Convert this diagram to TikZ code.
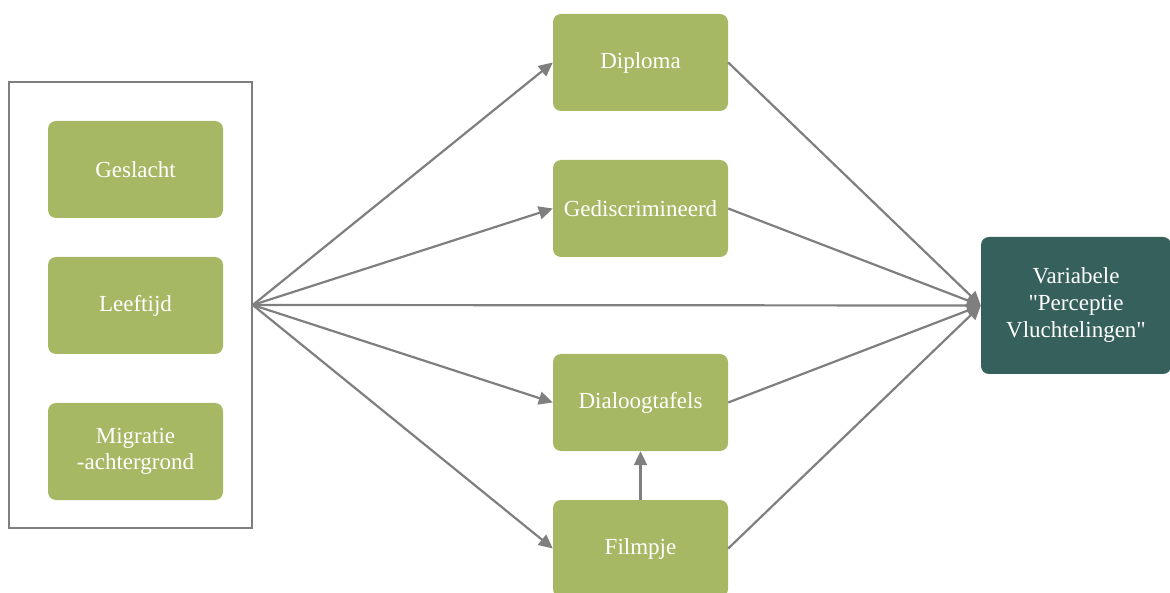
\documentclass[tikz,border=0pt]{standalone}
\usepackage{fontspec}
\setmainfont{Liberation Serif}
\usetikzlibrary{arrows.meta}
\definecolor{boxgreen}{HTML}{A6B864}
\definecolor{boxteal}{HTML}{35605C}
\definecolor{linegray}{HTML}{7F7F7F}
\begin{document}
\begin{tikzpicture}[x=1pt,y=-1pt,
  gbox/.style={fill=boxgreen, rounded corners=8pt, minimum width=175pt, minimum height=97pt, text=white, font=\fontsize{23}{26}\selectfont, align=center, inner sep=0pt},
  tbox/.style={fill=boxteal, rounded corners=8pt, minimum width=190pt, minimum height=137pt, text=white, font=\fontsize{23}{27}\selectfont, align=center, inner sep=0pt},
  conn/.style={draw=linegray, line width=2.2pt, -{Triangle[length=14pt,width=13pt]}}]
\useasboundingbox (0,0) rectangle (1170,593);
\node[draw=linegray, line width=1.5pt, minimum width=243pt, minimum height=446pt, inner sep=0pt] (group) at (130.5,305) {};
\node[gbox] (ges) at (135.5,169.5) {Geslacht};
\node[gbox] (lee) at (135.5,305.5) {Leeftijd};
\node[gbox] (mig) at (135.5,451.5) {Migratie\\-achtergrond};
\node[gbox] (dip) at (640.5,62.5) {Diploma};
\node[gbox] (ged) at (640.5,208.5) {Gediscrimineerd};
\node[gbox] (dia) at (640.5,402.5) {Dialoogtafels};
\node[gbox] (fil) at (640.5,548.5) {Filmpje};
\node[tbox] (var) at (1076,305.5) {Variabele\\\textquotedbl Perceptie\\Vluchtelingen\textquotedbl};
\coordinate (src) at (group.east);
\draw[conn] (src) -- (dip.west);
\draw[conn] (src) -- (ged.west);
\draw[conn] (src) -- (dia.west);
\draw[conn] (src) -- (fil.west);
\draw[conn] (src) -- (var.west);
\draw[conn] (dip.east) -- (var.west);
\draw[conn] (ged.east) -- (var.west);
\draw[conn] (dia.east) -- (var.west);
\draw[conn] (fil.east) -- (var.west);
\draw[conn] (fil.north) -- (dia.south);
\end{tikzpicture}
\end{document}
